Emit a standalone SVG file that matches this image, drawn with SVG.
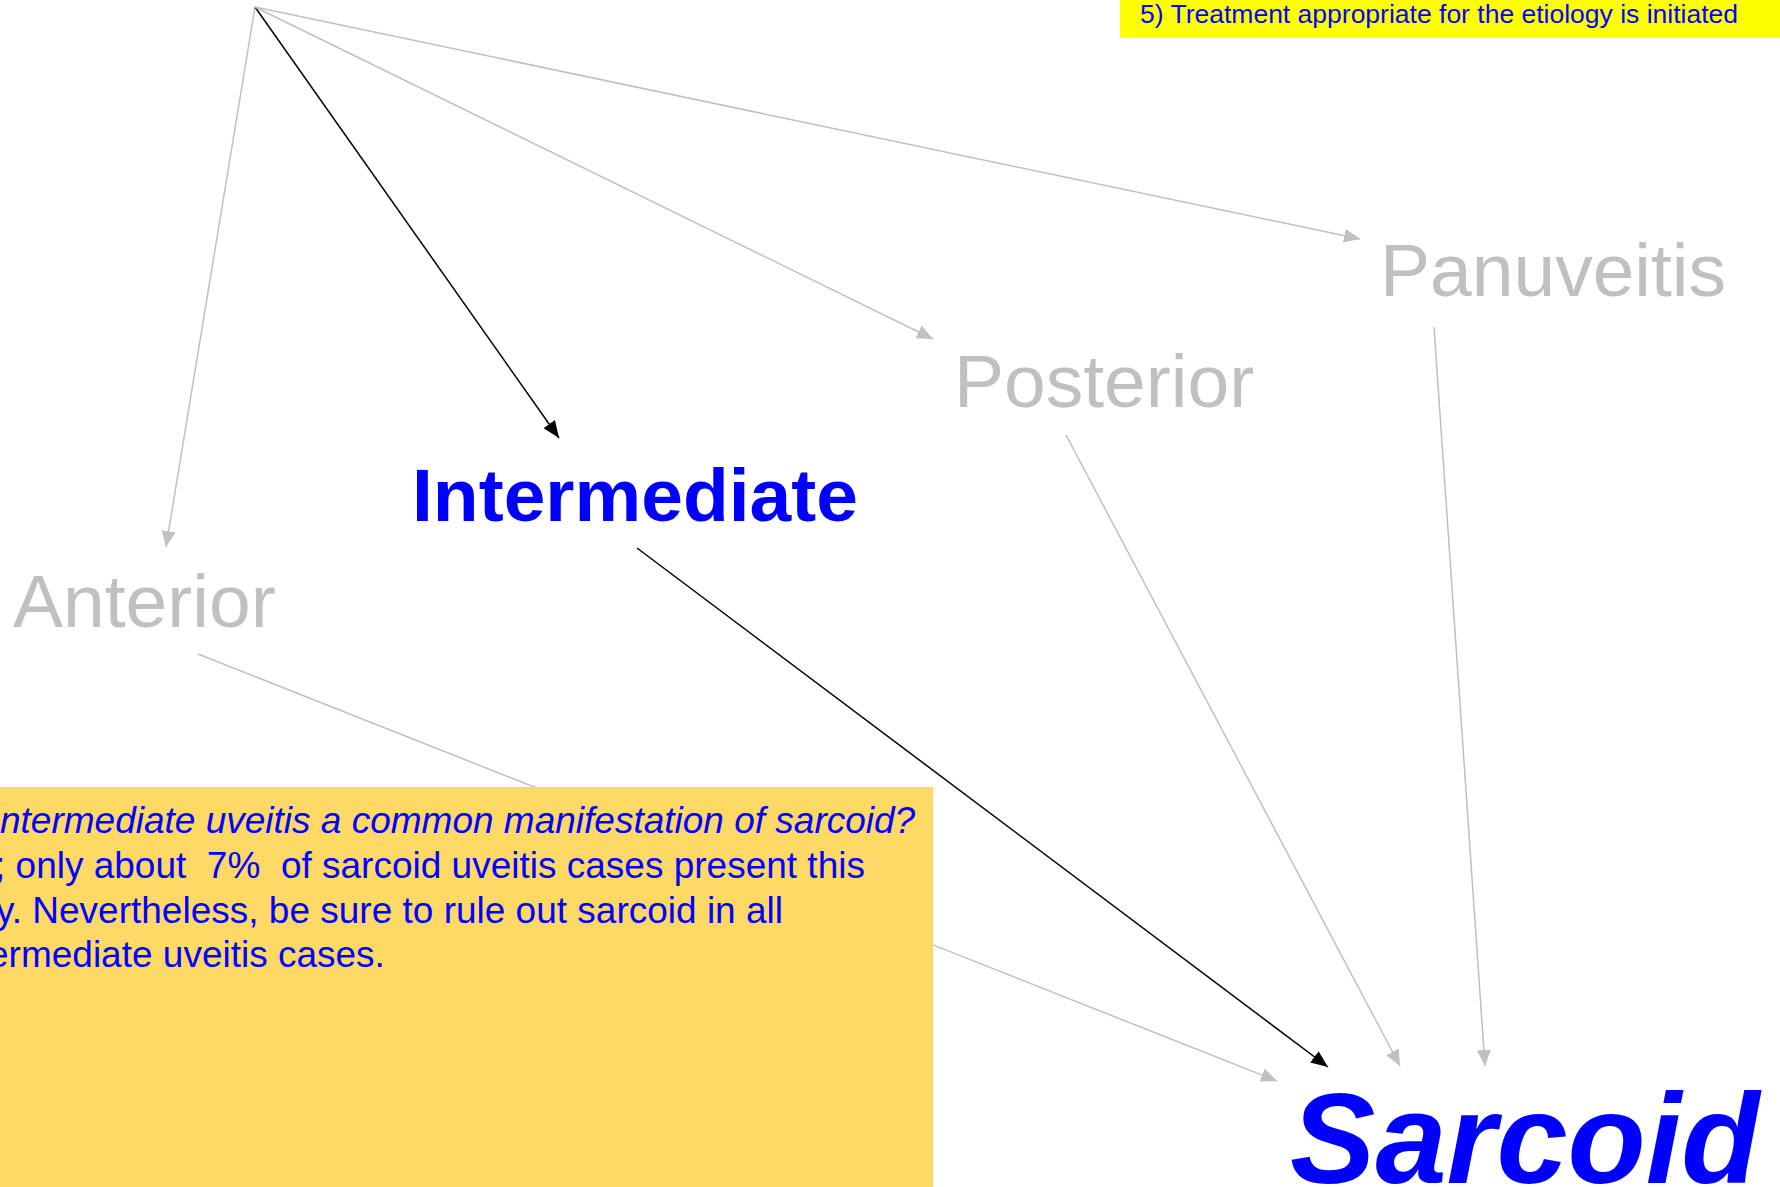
<svg xmlns="http://www.w3.org/2000/svg" width="1780" height="1187" viewBox="0 0 1780 1187">
<style>
.lbl{font-family:"Liberation Sans",Arial,sans-serif;font-size:75px;fill:#c0c0c0}
.g{stroke:#c0c0c0;stroke-width:1.5;fill:none}
.k{stroke:#000;stroke-width:1.5;fill:none}
.note{font-family:"Liberation Sans",Arial,sans-serif;font-size:37px;fill:#0000ff}
</style>
<defs>
<marker id="ag" markerUnits="userSpaceOnUse" markerWidth="16" markerHeight="14" refX="16" refY="7" orient="auto" viewBox="0 0 16 14"><path d="M0,0 L16,7 L0,14 z" fill="#c0c0c0"/></marker>
<marker id="ak" markerUnits="userSpaceOnUse" markerWidth="17" markerHeight="14" refX="17" refY="7" orient="auto" viewBox="0 0 17 14"><path d="M0,0 L17,7 L0,14 z" fill="#000"/></marker>
</defs>
<rect width="1780" height="1187" fill="#fff"/>
<g id="connectors">
<line class="g" x1="255" y1="7" x2="166" y2="547" marker-end="url(#ag)"/>
<line class="k" x1="255" y1="7" x2="559" y2="438" marker-end="url(#ak)"/>
<line class="g" x1="255" y1="7" x2="933" y2="339" marker-end="url(#ag)"/>
<line class="g" x1="255" y1="7" x2="1360" y2="239" marker-end="url(#ag)"/>
<line class="g" x1="198" y1="654" x2="1277" y2="1081" marker-end="url(#ag)"/>
<line class="k" x1="637" y1="548" x2="1328" y2="1067" marker-end="url(#ak)"/>
<line class="g" x1="1066" y1="435" x2="1400" y2="1066" marker-end="url(#ag)"/>
<line class="g" x1="1434" y1="327" x2="1485" y2="1066" marker-end="url(#ag)"/>
</g>
<g id="step5">
<rect x="1120" y="0" width="660" height="38" fill="#ffff00"/>
<text x="1140" y="23" font-family="Liberation Sans,Arial,sans-serif" font-size="26.5" fill="#0000ff">5) Treatment appropriate for the etiology is initiated</text>
</g>
<g id="panuveitis"><text class="lbl" x="1380" y="296">Panuveitis</text></g>
<g id="posterior"><text class="lbl" x="954" y="407">Posterior</text></g>
<g id="intermediate"><text x="412" y="521" font-family="Liberation Sans,Arial,sans-serif" font-size="75" font-weight="bold" fill="#0000ff">Intermediate</text></g>
<g id="anterior"><text class="lbl" x="13" y="627">Anterior</text></g>
<g id="sarcoid"><text x="1290" y="1183" font-family="Liberation Sans,Arial,sans-serif" font-size="128" font-weight="bold" font-style="italic" fill="#0000ff">Sarcoid</text></g>
<g id="note">
<rect x="0" y="787" width="933" height="400" fill="#ffd966"/>
<text class="note" x="0" y="833" font-style="italic">ntermediate uveitis a common manifestation of sarcoid?</text>
<text class="note" x="-5" y="878" xml:space="preserve" font-size="37.2">; only about  7%  of sarcoid uveitis cases present this</text>
<text class="note" x="-4" y="923">y. Nevertheless, be sure to rule out sarcoid in all</text>
<text class="note" x="-12" y="967">ermediate uveitis cases.</text>
</g>
</svg>
